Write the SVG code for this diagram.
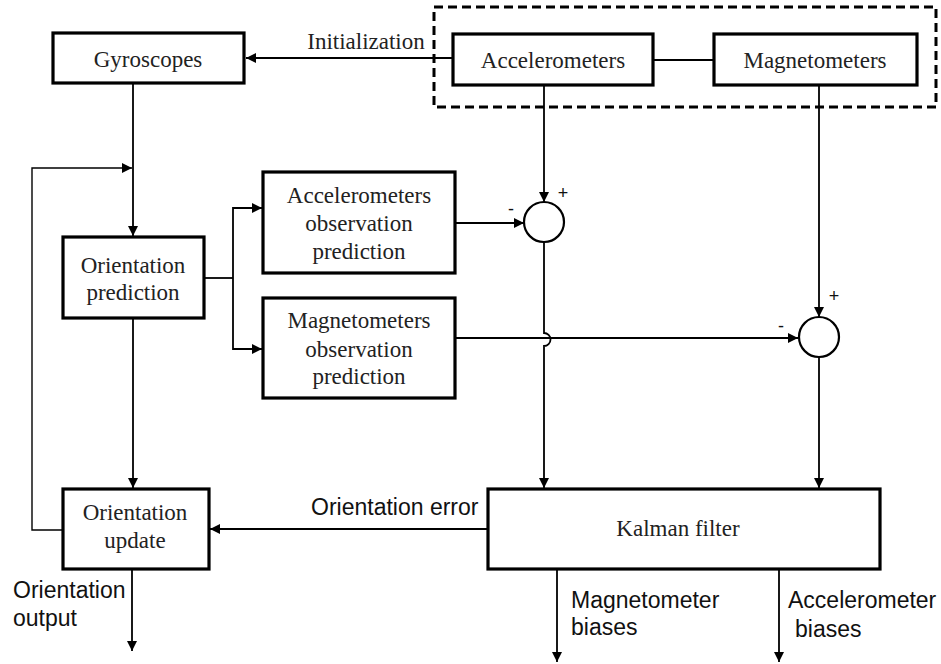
<svg xmlns="http://www.w3.org/2000/svg" width="941" height="664" viewBox="0 0 941 664">
<defs>
<style>
.box{fill:#fff;stroke:#000;stroke-width:3.2}
.ln{fill:none;stroke:#000;stroke-width:1.8}
.thin{fill:none;stroke:#000;stroke-width:1.4}
.ser{font-family:"Liberation Serif","Times New Roman",serif;font-size:23px;fill:#222;text-anchor:middle}
.san{font-family:"Liberation Sans",Arial,sans-serif;font-size:23px;fill:#111}
.sign{font-family:"Liberation Sans",Arial,sans-serif;font-size:18px;fill:#111;text-anchor:middle}
</style>
<marker id="ah" viewBox="0 0 10 10" refX="10" refY="5" markerWidth="10" markerHeight="10" markerUnits="userSpaceOnUse" orient="auto">
<path d="M0,0 L10,5 L0,10 Z" fill="#000"/>
</marker>
</defs>
<rect width="941" height="664" fill="#fff"/>

<g id="sensors-group">
<rect x="434" y="7" width="502" height="100" fill="none" stroke="#000" stroke-width="3" stroke-dasharray="9,5"/>
</g>

<g id="connectors">
<!-- Initialization -->
<line class="ln" x1="453" y1="58" x2="246" y2="58" marker-end="url(#ah)"/>
<!-- acc - mag link -->
<line class="ln" x1="653" y1="60" x2="714" y2="60"/>
<!-- gyro to orientation prediction -->
<line class="ln" x1="133" y1="83" x2="133" y2="236" marker-end="url(#ah)"/>
<!-- feedback -->
<polyline class="thin" points="62,530 32,530 32,168 132,168" marker-end="url(#ah)"/>
<!-- prediction branch -->
<polyline class="ln" points="204,278 233,278"/>
<polyline class="ln" points="263,208 233,208 233,349 262,349"/>
<line class="ln" x1="233" y1="208" x2="262" y2="208" marker-end="url(#ah)"/>
<line class="ln" x1="233" y1="349" x2="262" y2="349" marker-end="url(#ah)"/>
<!-- pred to update -->
<line class="ln" x1="133" y1="318" x2="133" y2="488" marker-end="url(#ah)"/>
<!-- acc down to sum1 -->
<line class="ln" x1="544" y1="85" x2="544" y2="202" marker-end="url(#ah)"/>
<!-- acc obs to sum1 -->
<line class="ln" x1="455" y1="223" x2="524" y2="223" marker-end="url(#ah)"/>
<!-- sum1 to kalman with hop -->
<path class="ln" d="M544,242 L544,333 A6.5,6.5 0 0 1 544,346 L544,488" marker-end="url(#ah)"/>
<!-- mag obs to sum2 -->
<line class="ln" x1="455" y1="338" x2="798" y2="338" marker-end="url(#ah)"/>
<!-- mag down to sum2 -->
<line class="ln" x1="819" y1="85" x2="819" y2="317" marker-end="url(#ah)"/>
<!-- sum2 to kalman -->
<line class="ln" x1="819" y1="358" x2="819" y2="488" marker-end="url(#ah)"/>
<!-- orientation error -->
<line class="ln" x1="488" y1="529" x2="210" y2="529" marker-end="url(#ah)"/>
<!-- outputs -->
<line class="ln" x1="132" y1="569" x2="132" y2="651" marker-end="url(#ah)"/>
<line class="ln" x1="557" y1="569" x2="557" y2="662" marker-end="url(#ah)"/>
<line class="ln" x1="779" y1="569" x2="779" y2="662" marker-end="url(#ah)"/>
</g>

<g id="gyroscopes">
<rect class="box" x="53" y="33" width="191" height="50"/>
<text class="ser" x="148" y="67">Gyroscopes</text>
</g>
<g id="accelerometers">
<rect class="box" x="453" y="34" width="200" height="51"/>
<text class="ser" x="553" y="68">Accelerometers</text>
</g>
<g id="magnetometers">
<rect class="box" x="714" y="34" width="203" height="51"/>
<text class="ser" x="815" y="68">Magnetometers</text>
</g>
<g id="orientation-prediction">
<rect class="box" x="63" y="237" width="141" height="81"/>
<text class="ser" x="133" y="273">Orientation</text>
<text class="ser" x="133" y="300">prediction</text>
</g>
<g id="acc-obs-prediction">
<rect class="box" x="263" y="172" width="192" height="101"/>
<text class="ser" x="359" y="203">Accelerometers</text>
<text class="ser" x="359" y="231">observation</text>
<text class="ser" x="359" y="259">prediction</text>
</g>
<g id="mag-obs-prediction">
<rect class="box" x="263" y="298" width="192" height="100"/>
<text class="ser" x="359" y="328">Magnetometers</text>
<text class="ser" x="359" y="357">observation</text>
<text class="ser" x="359" y="384">prediction</text>
</g>
<g id="sum1">
<circle cx="544" cy="222" r="20" fill="#fff" stroke="#000" stroke-width="2.2"/>
<text class="sign" x="563" y="199">+</text>
<text class="sign" x="511" y="215">-</text>
</g>
<g id="sum2">
<circle cx="819" cy="337" r="20" fill="#fff" stroke="#000" stroke-width="2.2"/>
<text class="sign" x="834" y="302">+</text>
<text class="sign" x="781" y="332">-</text>
</g>
<g id="orientation-update">
<rect class="box" x="63" y="489" width="146" height="80"/>
<text class="ser" x="135" y="520">Orientation</text>
<text class="ser" x="135" y="548">update</text>
</g>
<g id="kalman-filter">
<rect class="box" x="488" y="489" width="392" height="80"/>
<text class="ser" x="678" y="536">Kalman filter</text>
</g>

<g id="labels">
<text class="ser" x="366" y="49">Initialization</text>
<text class="san" x="311" y="515">Orientation error</text>
<text class="san" x="13" y="598">Orientation</text>
<text class="san" x="13" y="626">output</text>
<text class="san" x="571" y="608">Magnetometer</text>
<text class="san" x="571" y="635">biases</text>
<text class="san" x="788" y="608">Accelerometer</text>
<text class="san" x="795" y="637">biases</text>
</g>
</svg>
